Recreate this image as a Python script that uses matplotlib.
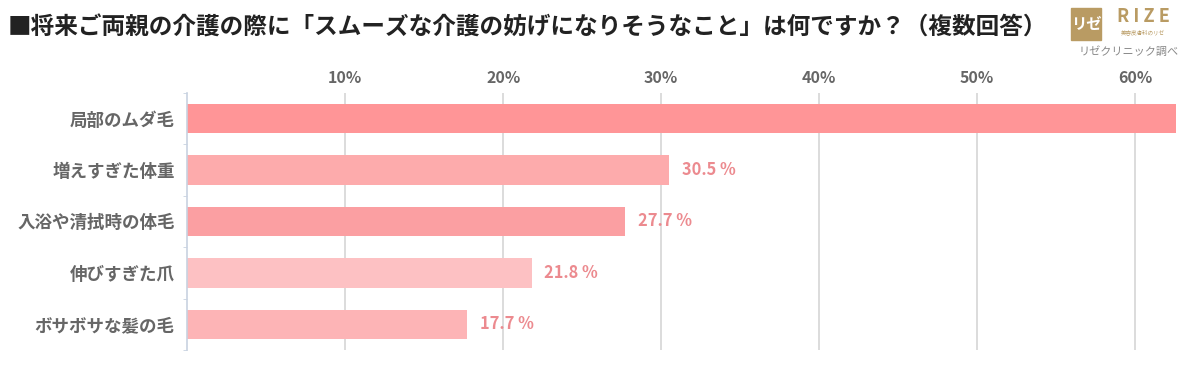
import matplotlib
matplotlib.use('Agg')
import matplotlib.pyplot as plt
from matplotlib.patches import Rectangle
import numpy as np

plt.rcParams['font.family'] = ['Noto Sans CJK JP', 'DejaVu Sans']

title = '■将来ご両親の介護の際に「スムーズな介護の妨げになりそうなこと」は何ですか？（複数回答）'
categories = ['局部のムダ毛', '増えすぎた体重', '入浴や清拭時の体毛', '伸びすぎた爪', 'ボサボサな髪の毛']
values = [62.6, 30.5, 27.7, 21.8, 17.7]
bar_colors = ['#FF9597', '#FDABAC', '#FB9FA2', '#FDC1C3', '#FDB4B6']
xticks = [10, 20, 30, 40, 50, 60]

fig = plt.figure(figsize=(12, 3.7), dpi=100)
ax = fig.add_axes([0.156, 0.054, 0.844, 0.695])

y = np.arange(len(categories))
ax.barh(y, values, height=0.57, color=bar_colors, zorder=2)

# first bar's label runs off the picture, so only the others are drawn
for i in range(1, len(values)):
    ax.text(values[i] + 0.8, y[i], '%.1f %%' % values[i], va='center', ha='left',
            fontsize=11.8, fontweight='bold', color='#EC8A8F', zorder=3)

ax.set_xlim(0, 64.1)
ax.set_ylim(4.46, -0.44)
ax.xaxis.tick_top()
ax.set_xticks(xticks)
ax.set_xticklabels([str(t) + '%' for t in xticks], fontsize=11.5, fontweight='bold', color='#666666')
ax.tick_params(axis='x', length=0, pad=5)
ax.grid(axis='x', color='#D5D5D5', linewidth=1.2, zorder=0)

ax.set_yticks(y)
ax.set_yticklabels(categories, fontsize=12.6, fontweight='bold', color='#666666')
ax.set_yticks(np.arange(-0.5, len(categories)), minor=True)
ax.tick_params(axis='y', which='major', length=0, pad=9)
ax.tick_params(axis='y', which='minor', length=3, color='#C8D2E0')

for s in ['top', 'right', 'bottom']:
    ax.spines[s].set_visible(False)
ax.spines['left'].set_color('#C8D2E0')
ax.spines['left'].set_linewidth(1.2)

fig.text(0.006, 1 - 28 / 370, title, fontsize=17, fontweight='bold', color='#222222', va='center')

# logo
fig.patches.append(Rectangle((1071 / 1200, 1 - 40 / 370), 30 / 1200, 32 / 370,
                             transform=fig.transFigure, color='#B99B63'))
fig.text(1086 / 1200, 1 - 24 / 370, 'リゼ', fontsize=11, color='white', ha='center', va='center', fontweight='bold')
fig.text(1143 / 1200, 1 - 17 / 370, 'R I Z E', fontsize=13, color='#B99B63', ha='center', va='center', fontweight='bold')
fig.text(1143 / 1200, 1 - 32 / 370, '美容皮膚科のリゼ', fontsize=4, color='#B99B63', ha='center', va='center')
fig.text(1129 / 1200, 1 - 52 / 370, 'リゼクリニック調べ', fontsize=8, color='#888888', ha='center', va='center')

fig.savefig('out.png', dpi=100, facecolor='white')
